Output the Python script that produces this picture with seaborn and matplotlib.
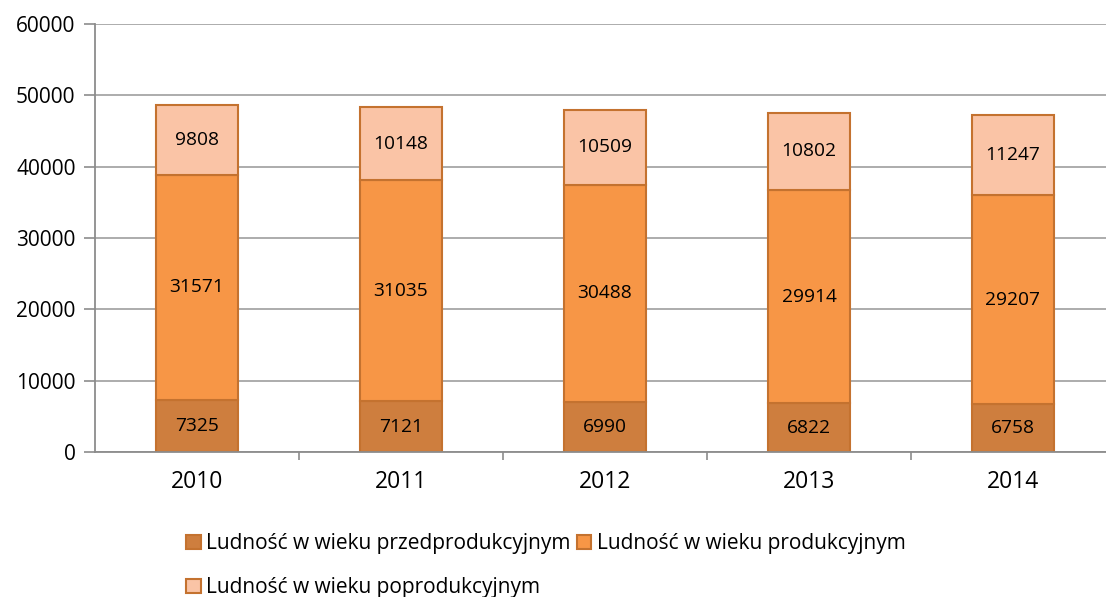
import numpy as np
import pandas as pd
import matplotlib
matplotlib.use("Agg")
import matplotlib.pyplot as plt
import seaborn as sns

years = ["2010", "2011", "2012", "2013", "2014"]
pre_prod = [7325, 7121, 6990, 6822, 6758]
prod = [31571, 31035, 30488, 29914, 29207]
post_prod = [9808, 10148, 10509, 10802, 11247]

series_names = [
    "Ludność w wieku przedprodukcyjnym",
    "Ludność w wieku produkcyjnym",
    "Ludność w wieku poprodukcyjnym",
]
colors = ["#CE7E3E", "#F79646", "#FAC4A6"]
edge = "#C4722F"

sns.set_style("white")
plt.rcParams["font.family"] = ["Open Sans", "DejaVu Sans"]

fig = plt.figure(figsize=(11.06, 5.97), dpi=100)
ax = fig.add_axes([95 / 1106, 1 - 452 / 597, 1020 / 1106, 428 / 597])

df = pd.DataFrame({"year": years, "pre": pre_prod, "prod": prod, "post": post_prod})
bottoms = [np.zeros(len(years)), np.array(pre_prod), np.array(pre_prod) + np.array(prod)]

for col, name, color, bottom in zip(["pre", "prod", "post"], series_names, colors, bottoms):
    sns.barplot(data=df, x="year", y=col, order=years, bottom=bottom, color=color,
                width=0.4, edgecolor=edge, linewidth=1.5, label=name, ax=ax,
                saturation=1, errorbar=None)

for cont in ax.containers:
    ax.bar_label(cont, labels=[str(int(v)) for v in cont.datavalues],
                 label_type="center", fontsize=13.8, color="black")

ax.set_ylim(0, 60000)
ax.set_xlim(-0.5, 4.5)
ax.set_yticks(np.arange(0, 60001, 10000))
ax.yaxis.grid(True, color="#A6A6A6", linewidth=1.3)
ax.set_axisbelow(True)
ax.set_xlabel("")
ax.set_ylabel("")

for s in ["top", "right"]:
    ax.spines[s].set_visible(False)
for s in ["left", "bottom"]:
    ax.spines[s].set_color("#8C8C8C")
    ax.spines[s].set_linewidth(1.3)

ax.tick_params(axis="y", which="major", length=8, width=1.2, color="#8C8C8C",
               labelsize=15, labelcolor="black", pad=6, direction="out", left=True)
ax.tick_params(axis="x", which="major", length=0, labelsize=16.5, labelcolor="black", pad=13)
ax.set_xticks(np.arange(0.5, 4.6, 1.0), minor=True)
ax.tick_params(axis="x", which="minor", length=6, width=1.2, color="#8C8C8C",
               direction="out", bottom=True)

handles, labels = ax.get_legend_handles_labels()
if ax.get_legend() is not None:
    ax.get_legend().remove()
order = [0, 2, 1]
leg = fig.legend([handles[i] for i in order], [labels[i] for i in order], ncol=2,
                 frameon=False, loc="upper left",
                 bbox_to_anchor=(178 / 1106, 1 - 525 / 597), fontsize=15,
                 handlelength=0.7, handleheight=0.7, handletextpad=0.25,
                 columnspacing=0.3, labelspacing=1.1, borderaxespad=0)
for t in leg.get_texts():
    t.set_color("black")

fig.savefig("out.png", dpi=100)
